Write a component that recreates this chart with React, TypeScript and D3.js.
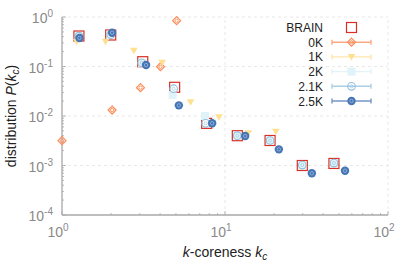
import React from "react";
import * as d3 from "d3";

// values
const brainK = [1.27, 1.99, 3.13, 4.91, 7.72, 11.9, 18.9, 29.8, 46.6];
const brainP = [0.413, 0.433, 0.125, 0.038, 0.0071, 0.004, 0.0032, 0.001, 0.0011];

const k0K = [1, 2.03, 3.03, 4.02, 5.05];
const p0K = [0.00317, 0.0132, 0.0373, 0.099, 0.842];

const k1K = [1.23, 1.85, 2.76, 4.12, 6.15, 9.18, 13.9, 20.5];
const p1K = [0.317, 0.317, 0.209, 0.119, 0.0189, 0.0094, 0.00448, 0.00482];

const k2K = [1.27, 1.99, 3.1, 4.77, 7.54, 11.9, 18.9, 29.8, 46.6];
const p2K = [0.41, 0.44, 0.118, 0.0265, 0.01, 0.004, 0.0032, 0.00102, 0.00112];

const k21K = [1.27, 1.99, 3.08, 4.84, 7.6, 11.9, 18.9, 29.8, 46.6];
const p21K = [0.41, 0.44, 0.119, 0.0356, 0.0071, 0.004, 0.0032, 0.00102, 0.00112];

const k25K = [1.28, 2.03, 3.28, 5.21, 8.34, 13.3, 21.4, 34.1, 54.5];
const p25K = [0.377, 0.482, 0.107, 0.0164, 0.00713, 0.00394, 0.00212, 0.000695, 0.000785];

const legendLabels = ["BRAIN", "0K", "1K", "2K", "2.1K", "2.5K"];
const colors = ["#d73027", "#fc8d59", "#fee090", "#e0f3f8", "#91bfdb", "#4575b4"];

const xTicks = [1, 10, 100];
const yTicks = [1e-4, 1e-3, 1e-2, 1e-1, 1];

const font = "'Liberation Sans', Arial, sans-serif";

const zip = (a: number[], b: number[]) => a.map((v, i) => [v, b[i]]);

function Marker({ kind, x, y }: { kind: number; x: number; y: number }) {
  const c = colors[kind];
  if (kind === 0)
    return <rect x={x - 5} y={y - 5} width={10} height={10} fill="none" stroke={c} strokeWidth={1.2} />;
  if (kind === 1)
    return (
      <g>
        <path d={`M${x},${y - 4}L${x + 4},${y}L${x},${y + 4}L${x - 4},${y}Z`} fill="none" stroke={c} strokeWidth={1.2} />
        <circle cx={x} cy={y} r={1.6} fill="none" stroke={c} strokeWidth={0.9} />
      </g>
    );
  if (kind === 2)
    return <path d={`M${x - 3.8},${y - 3}L${x + 3.8},${y - 3}L${x},${y + 3.5}Z`} fill={c} />;
  if (kind === 3)
    return <rect x={x - 4} y={y - 4} width={8} height={8} fill={c} />;
  if (kind === 4)
    return (
      <g>
        <circle cx={x} cy={y} r={3.8} fill="none" stroke={c} strokeWidth={1.1} />
        <circle cx={x} cy={y} r={1.5} fill="none" stroke={c} strokeWidth={0.6} />
      </g>
    );
  return (
    <g>
      <circle cx={x} cy={y} r={4.2} fill={c} />
      <circle cx={x} cy={y} r={1.7} fill="none" stroke="#a9c4e6" strokeWidth={0.7} />
    </g>
  );
}

function Pow({ x, y, exp, anchor }: { x: number; y: number; exp: number; anchor: string }) {
  return (
    <text x={x} y={y} textAnchor={anchor} fill="#8a8a8a" fontSize={14} fontFamily={font}>
      10<tspan dy={-6} fontSize={10}>{exp}</tspan>
    </text>
  );
}

export default function App() {
  const x = d3.scaleLog().domain([1, 100]).range([62, 388]);
  const y = d3.scaleLog().domain([1e-4, 1]).range([215, 17]);

  const series = [
    zip(brainK, brainP),
    zip(k0K, p0K),
    zip(k1K, p1K),
    zip(k2K, p2K),
    zip(k21K, p21K),
    zip(k25K, p25K),
  ];

  const xMinor: number[] = [];
  for (let d = 1; d < 100; d *= 10) for (let m = 2; m <= 9; m++) xMinor.push(d * m);
  const yMinor: number[] = [];
  for (let d = 1e-4; d < 1; d *= 10) for (let m = 2; m <= 9; m++) yMinor.push(d * m);

  const [x0, x1] = x.range();
  const [y0, y1] = y.range();

  return (
    <svg width={415} height={277} style={{ position: "absolute", left: 0, top: 0 }}>
      <rect width={415} height={277} fill="#fff" />
      {/* grid */}
      {yTicks.slice(1).map((t) => (
        <line key={"gy" + t} x1={x0} x2={x1} y1={y(t)} y2={y(t)} stroke="#e2e2e2" strokeDasharray="3,3" strokeWidth={0.8} />
      ))}
      {xTicks.slice(1).map((t) => (
        <line key={"gx" + t} x1={x(t)} x2={x(t)} y1={y0} y2={y1} stroke="#e2e2e2" strokeDasharray="3,3" strokeWidth={0.8} />
      ))}
      {/* axes */}
      <line x1={x0} x2={x1} y1={y0} y2={y0} stroke="#a8a8a8" strokeWidth={1.3} />
      <line x1={x0} x2={x0} y1={y0} y2={y1} stroke="#a8a8a8" strokeWidth={1.3} />
      {xMinor.map((t) => (
        <line key={"xm" + t} x1={x(t)} x2={x(t)} y1={y0} y2={y0 - 2} stroke="#a8a8a8" strokeWidth={0.8} />
      ))}
      {xTicks.map((t) => (
        <line key={"xt" + t} x1={x(t)} x2={x(t)} y1={y0} y2={y0 - 4} stroke="#a8a8a8" strokeWidth={0.8} />
      ))}
      {yMinor.map((t) => (
        <line key={"ym" + t} x1={x0} x2={x0 + 2} y1={y(t)} y2={y(t)} stroke="#a8a8a8" strokeWidth={0.8} />
      ))}
      {yTicks.map((t) => (
        <line key={"yt" + t} x1={x0} x2={x0 + 4} y1={y(t)} y2={y(t)} stroke="#a8a8a8" strokeWidth={0.8} />
      ))}
      {xTicks.map((t) => (
        <Pow key={"xl" + t} x={x(t) - 4} y={237} exp={Math.round(Math.log10(t))} anchor="middle" />
      ))}
      {yTicks.map((t) => (
        <Pow key={"yl" + t} x={53} y={y(t) + 6} exp={Math.round(Math.log10(t))} anchor="end" />
      ))}
      {/* axis titles */}
      <text x={x(10)} y={257} textAnchor="middle" fontSize={14} fontFamily={font} fill="#222">
        <tspan fontStyle="italic">k</tspan>-coreness <tspan fontStyle="italic">k</tspan>
        <tspan fontStyle="italic" fontSize={10} dy={3}>c</tspan>
      </text>
      <text transform={`translate(16,${(y0 + y1) / 2}) rotate(-90)`} textAnchor="middle" fontSize={14} fontFamily={font} fill="#222">
        distribution <tspan fontStyle="italic">P</tspan>(<tspan fontStyle="italic">k</tspan>
        <tspan fontStyle="italic" fontSize={10} dy={3}>c</tspan>
        <tspan dy={-3}>)</tspan>
      </text>
      {/* points */}
      {series.map((s, i) => (
        <g key={"s" + i}>
          {s.map(([k, p], j) => (
            <Marker key={j} kind={i} x={x(k)} y={y(p)} />
          ))}
        </g>
      ))}
      {/* legend */}
      {legendLabels.map((lab, i) => {
        const ly = 27.5 + i * 14.7;
        return (
          <g key={"lg" + i}>
            <text x={323} y={ly + 4.5} textAnchor="end" fontSize={12} fontFamily={font} fill="#222">
              {lab}
            </text>
            {i > 0 && (
              <g stroke={colors[i]} strokeWidth={1.4} opacity={i === 3 ? 1 : 0.75}>
                <line x1={332} x2={371} y1={ly} y2={ly} />
                <line x1={332} x2={332} y1={ly - 2.5} y2={ly + 2.5} />
                <line x1={371} x2={371} y1={ly - 2.5} y2={ly + 2.5} />
              </g>
            )}
            <Marker kind={i} x={351.5} y={ly} />
          </g>
        );
      })}
    </svg>
  );
}
